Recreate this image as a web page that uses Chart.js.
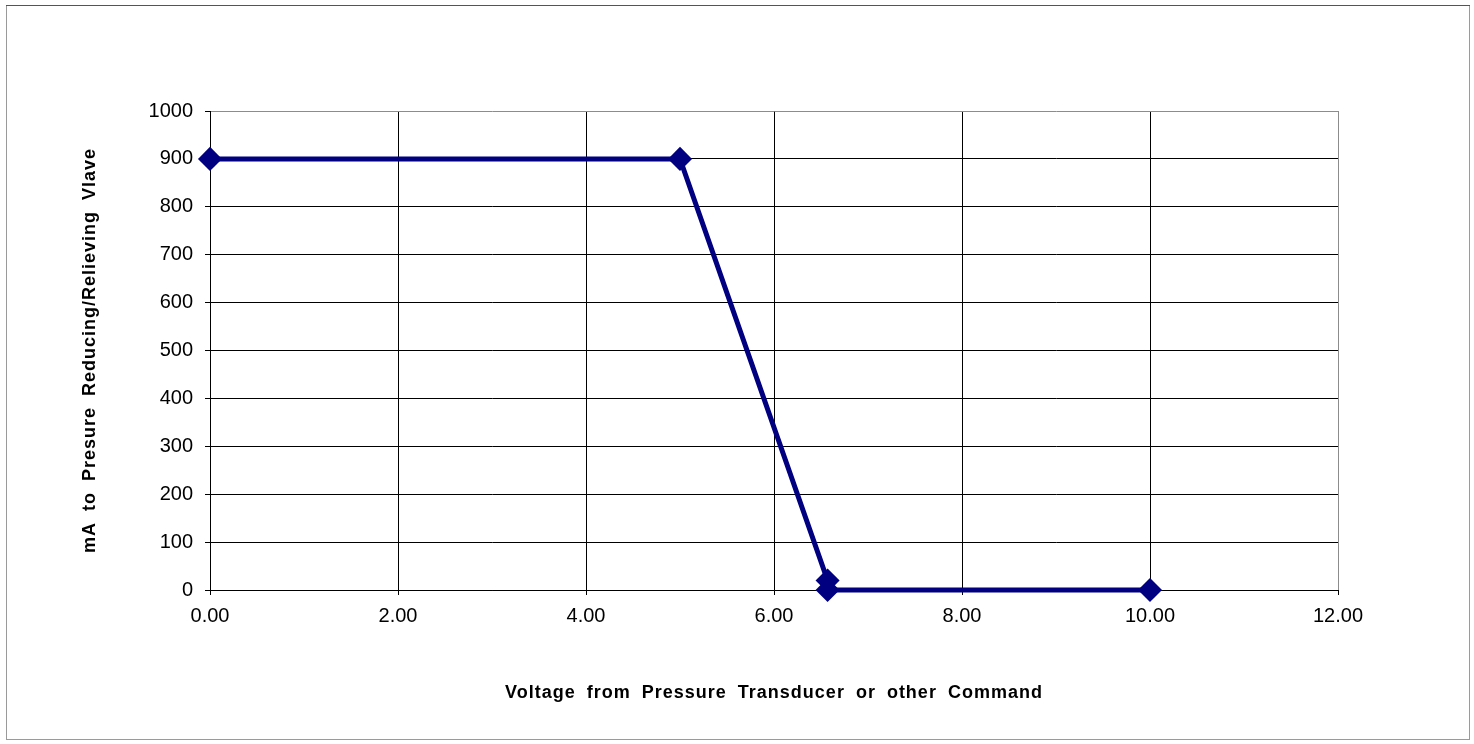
<!DOCTYPE html>
<html>
<head>
<meta charset="utf-8">
<script src="https://cdn.jsdelivr.net/npm/chart.js@4/dist/chart.umd.min.js"></script>
<style>
  html, body { margin: 0; padding: 0; background: #fff; }
  #wrap { width: 1474px; height: 744px; position: relative; }
</style>
</head>
<body>
<div id="wrap"><canvas id="chart" width="1474" height="744"></canvas></div>
<script>
'use strict';

const voltage = [0, 5.0, 6.57, 6.57, 10.0];
const milliamps = [900, 900, 20, 0, 0];
const xTitle = 'Voltage from Pressure Transducer or other Command';
const yTitle = 'mA to Presure Reducing/Relieving Vlave';

const lineColor = '#000080';
const fontFamily = '"Liberation Sans", Arial, sans-serif';

// outer frame like the spreadsheet chart area, plus spaced-out axis titles
const framePlugin = {
  id: 'frame',
  beforeDraw: (chart) => {
    const { ctx } = chart;
    ctx.save();
    ctx.fillStyle = '#fff';
    ctx.fillRect(0, 0, chart.width, chart.height);
    ctx.lineWidth = 1;
    ctx.strokeStyle = '#9a9a9a';
    ctx.strokeRect(6.5, 5.5, 1463, 734);
    ctx.strokeStyle = '#555';
    ctx.beginPath();
    ctx.moveTo(6, 5.5);
    ctx.lineTo(1470, 5.5);
    ctx.stroke();
    ctx.restore();

    Object.values(chart.scales).forEach((scale) => {
      if (scale._spacedTitle) return;
      const original = scale.drawTitle.bind(scale);
      scale.drawTitle = () => {
        ctx.save();
        ctx.letterSpacing = '1px';
        ctx.wordSpacing = '5px';
        original();
        ctx.restore();
      };
      scale._spacedTitle = true;
    });
  },
};

new Chart(document.getElementById('chart'), {
  type: 'line',
  data: {
    datasets: [{
      data: voltage.map((v, i) => ({ x: v, y: milliamps[i] })),
      borderColor: lineColor,
      backgroundColor: lineColor,
      borderWidth: 5,
      pointStyle: 'rectRot',
      pointRadius: 8.5,
      pointHoverRadius: 8.5,
      tension: 0,
      fill: false,
      clip: false,
    }],
  },
  options: {
    responsive: false,
    animation: false,
    layout: { padding: { left: 75, right: 136, top: 111, bottom: 36 } },
    plugins: {
      legend: { display: false },
      tooltip: { enabled: false },
    },
    scales: {
      x: {
        type: 'linear',
        min: 0,
        max: 12,
        afterFit: (scale) => { scale.height = 118; },
        ticks: {
          stepSize: 2,
          color: '#000',
          padding: 9,
          font: { family: fontFamily, size: 20 },
          callback: (v) => Number(v).toFixed(2),
        },
        grid: {
          color: (c) => (c.tick && c.tick.value === 12 ? '#8c8c8c' : '#000'),
          lineWidth: 1,
          tickLength: 5,
          tickColor: '#000',
        },
        border: { color: '#000', width: 1 },
        title: {
          display: true,
          text: xTitle,
          color: '#000',
          font: { family: fontFamily, size: 18, weight: 'bold' },
        },
      },
      y: {
        min: 0,
        max: 1000,
        afterFit: (scale) => { scale.width = 135; },
        ticks: {
          stepSize: 100,
          color: '#000',
          padding: 12,
          font: { family: fontFamily, size: 20 },
          callback: (v) => String(v),
        },
        grid: {
          color: (c) => (c.tick && c.tick.value === 1000 ? '#8c8c8c' : '#000'),
          lineWidth: 1,
          tickLength: 5,
          tickColor: '#000',
        },
        border: { color: '#000', width: 1 },
        title: {
          display: true,
          text: yTitle,
          color: '#000',
          font: { family: fontFamily, size: 18, weight: 'bold' },
        },
      },
    },
  },
  plugins: [framePlugin],
});
</script>
</body>
</html>
